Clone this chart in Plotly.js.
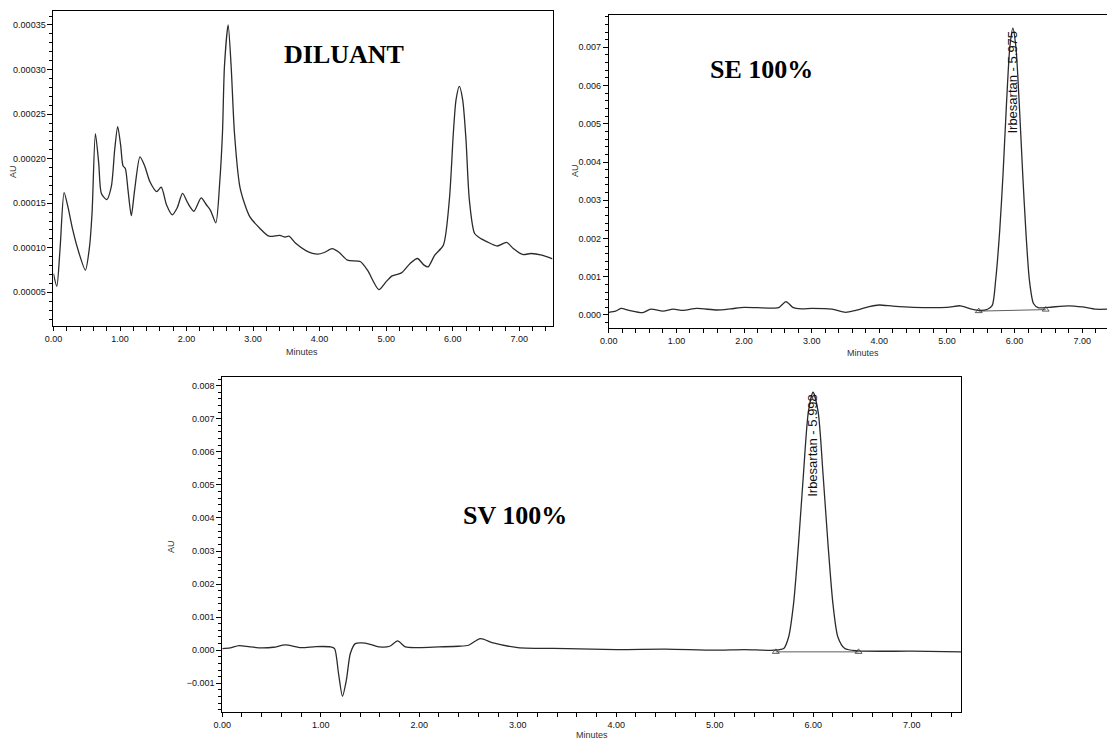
<!DOCTYPE html>
<html>
<head>
<meta charset="utf-8">
<script src="https://cdn.plot.ly/plotly-3.0.1.min.js"></script>
<style>html,body{margin:0;padding:0;background:#fff;}#chart{width:1107px;height:742px;}</style>
</head>
<body>
<div id="chart"></div>
<script>
// ---- DILUANT chromatogram (minutes, AU) ----
const dilT = [0.00,0.05,0.10,0.16,0.22,0.29,0.38,0.48,0.54,0.58,0.63,0.68,0.72,0.80,0.87,0.92,0.965,1.01,1.045,1.08,1.12,1.17,1.22,1.30,1.37,1.45,1.55,1.62,1.70,1.785,1.86,1.94,2.02,2.11,2.22,2.30,2.36,2.44,2.50,2.54,2.57,2.625,2.67,2.72,2.80,2.87,2.95,3.10,3.24,3.40,3.48,3.54,3.64,3.80,3.97,4.07,4.19,4.29,4.42,4.61,4.72,4.89,5.00,5.09,5.23,5.36,5.47,5.57,5.63,5.73,5.86,5.95,6.01,6.05,6.10,6.15,6.20,6.25,6.33,6.43,6.51,6.67,6.81,6.91,7.05,7.18,7.34,7.50];
const dilV = [0.0000711,0.0000568,0.000100,0.000162,0.000145,0.000120,0.000095,0.000075,0.000100,0.000139,0.000228,0.000195,0.000161,0.000154,0.000169,0.000210,0.000236,0.000215,0.000192,0.000189,0.000165,0.000136,0.000165,0.000202,0.000192,0.000174,0.000163,0.000168,0.000148,0.000137,0.000145,0.000161,0.000150,0.000141,0.000156,0.000148,0.000142,0.000128,0.000175,0.000229,0.000304,0.000350,0.000304,0.000229,0.000169,0.000150,0.000135,0.000122,0.000113,0.000114,0.000112,0.000113,0.000105,0.0000966,0.0000929,0.0000947,0.0000990,0.0000950,0.0000861,0.0000846,0.0000748,0.0000531,0.0000620,0.0000685,0.0000718,0.0000824,0.0000880,0.0000805,0.0000786,0.0000917,0.000103,0.000154,0.000229,0.000266,0.000281,0.000266,0.000221,0.000154,0.000116,0.000110,0.000107,0.000102,0.000106,0.0000993,0.0000925,0.0000936,0.0000917,0.0000876];

// ---- SE 100% chromatogram ----
const seT = [0.00,0.10,0.18,0.30,0.50,0.62,0.80,0.95,1.10,1.30,1.60,1.80,2.00,2.20,2.45,2.52,2.62,2.72,2.85,3.00,3.30,3.50,3.65,3.85,4.00,4.20,4.50,5.00,5.20,5.35,5.50,5.60,5.67,5.72,5.78,5.83,5.88,5.93,5.975,6.02,6.07,6.12,6.17,6.22,6.28,6.35,6.50,6.80,7.00,7.20,7.37];
const seV = [0.00007,0.00010,0.00017,0.00012,0.00006,0.00015,0.00010,0.00015,0.00012,0.00017,0.00013,0.00016,0.00020,0.00019,0.00018,0.00020,0.00035,0.00020,0.00016,0.00017,0.00015,0.00007,0.00012,0.00022,0.00026,0.00023,0.00020,0.00020,0.00024,0.00016,0.00012,0.00015,0.00025,0.0009,0.0022,0.0037,0.0055,0.0070,0.0075,0.0070,0.0055,0.0037,0.0021,0.0009,0.0003,0.00019,0.00020,0.00024,0.00021,0.00015,0.00015];
const seBaseT = [5.47, 6.46];
const seBaseV = [0.00010, 0.00014];
const sePeakLabel = "Irbesartan - 5.975";
const sePeakT = 5.975, sePeakV = 0.0075;

// ---- SV 100% chromatogram ----
const svT = [0.00,0.08,0.17,0.28,0.40,0.52,0.64,0.80,0.95,1.10,1.14,1.18,1.22,1.26,1.30,1.35,1.42,1.50,1.60,1.70,1.78,1.86,2.00,2.20,2.40,2.50,2.62,2.75,3.00,3.50,4.00,4.50,5.00,5.30,5.60,5.70,5.75,5.80,5.85,5.90,5.95,5.998,6.05,6.10,6.15,6.20,6.25,6.32,6.45,7.00,7.50];
const svV = [0.00005,0.00007,0.00014,0.00010,0.00007,0.00009,0.00016,0.00008,0.00011,0.00010,0.00005,-0.0007,-0.00139,-0.0009,-0.0001,0.00020,0.00022,0.00018,0.00010,0.00012,0.00028,0.00010,0.00008,0.00010,0.00012,0.00015,0.00035,0.00022,0.00008,0.00005,0.00002,0.00003,0.00000,0.00002,0.00000,0.00005,0.0004,0.0014,0.0032,0.0053,0.0072,0.0078,0.0072,0.0053,0.0032,0.0014,0.0004,0.00005,-0.00002,-0.00003,-0.00005];
const svBaseT = [5.62, 6.46];
const svBaseV = [-0.00005, -0.00005];
const svPeakLabel = "Irbesartan - 5.998";
const svPeakT = 5.998, svPeakV = 0.0078;

const panelTitles = ["DILUANT", "SE 100%", "SV 100%"];
const xTitle = "Minutes", yTitle = "AU";

const lineCol = "#2b2b2b";
const tickFont = {family: "Liberation Sans Narrow, Liberation Sans, Arial, sans-serif", size: 9, color: "#111"};

function trace(x, y, xa, ya) {
  return {x: x, y: y, xaxis: xa, yaxis: ya, type: "scatter", mode: "lines",
          line: {color: lineCol, width: 1.3, shape: "spline", smoothing: 0.7}, hoverinfo: "skip"};
}
function baseTrace(x, y, xa, ya) {
  return {x: x, y: y, xaxis: xa, yaxis: ya, type: "scatter", mode: "lines+markers",
          line: {color: "#333", width: 0.8},
          marker: {symbol: "triangle-up-open", size: 6, color: "#333", line: {width: 0.8}}, hoverinfo: "skip"};
}

const data = [
  trace(dilT, dilV, "x", "y"),
  trace(seT, seV, "x2", "y2"),
  baseTrace(seBaseT, seBaseV, "x2", "y2"),
  trace(svT, svV, "x3", "y3"),
  baseTrace(svBaseT, svBaseV, "x3", "y3")
];

function xAx(domain, range, anchor) {
  return {domain: domain, range: range, anchor: anchor, showgrid: false, zeroline: false,
          showline: true, linecolor: "#000", linewidth: 1, mirror: true,
          ticks: "outside", ticklen: 4, tickcolor: "#000", tick0: 0, dtick: 1, tickformat: ".2f",
          tickfont: tickFont, minor: {dtick: 0.2, ticks: "outside", ticklen: 4, tickcolor: "#000"}};
}
function yAx(domain, range, anchor, dtick, minorD, fmt) {
  return {domain: domain, range: range, anchor: anchor, showgrid: false, zeroline: false,
          showline: true, linecolor: "#000", linewidth: 1, mirror: true,
          ticks: "outside", ticklen: 5, tickcolor: "#000", tick0: 0, dtick: dtick, tickformat: fmt,
          tickfont: tickFont, minor: {dtick: minorD, ticks: "outside", ticklen: 3, tickcolor: "#000"}};
}

const bigFont = {family: "Liberation Serif, Times New Roman, serif", size: 26, color: "#000"};
const smallFont = {family: "Liberation Sans, Arial, sans-serif", size: 9, color: "#333"};
const peakFont = {family: "Liberation Sans Narrow, Liberation Sans, Arial, sans-serif", size: 13, color: "#111"};

function paperNote(text, x, y, font, angle) {
  return {text: text, xref: "paper", yref: "paper", x: x, y: y, xanchor: "center", yanchor: "middle",
          textangle: angle || 0, showarrow: false, font: font};
}

const layout = {
  width: 1107, height: 742, margin: {l: 0, r: 0, t: 0, b: 0},
  paper_bgcolor: "#fff", plot_bgcolor: "#fff", showlegend: false,
  xaxis: xAx([0.0483, 0.4991], [0, 7.5], "y"),
  yaxis: yAx([0.5606, 0.9852], [0.0000122, 0.0003657], "x", 0.00005, 0.00001, ".5f"),
  xaxis2: xAx([0.5500, 1.0], [0, 7.367], "y2"),
  yaxis2: yAx([0.5576, 0.9798], [-0.000348, 0.007845], "x2", 0.001, 0.0002, ".3f"),
  xaxis3: xAx([0.2008, 0.8681], [0, 7.5], "y3"),
  yaxis3: yAx([0.0408, 0.4923], [-0.00186, 0.00827], "x3", 0.001, 0.0002, ".3f"),
  annotations: [
    paperNote("<b>" + panelTitles[0] + "</b>", 0.3107, 0.9259, bigFont),
    paperNote("<b>" + panelTitles[1] + "</b>", 0.6883, 0.9057, bigFont),
    paperNote("<b>" + panelTitles[2] + "</b>", 0.4652, 0.3059, bigFont),
    paperNote(yTitle, 0.0117, 0.7695, smallFont, -90),
    paperNote(yTitle, 0.5194, 0.7709, smallFont, -90),
    paperNote(yTitle, 0.1545, 0.2628, smallFont, -90),
    paperNote(xTitle, 0.2728, 0.5256, smallFont),
    paperNote(xTitle, 0.7794, 0.5243, smallFont),
    paperNote(xTitle, 0.5348, 0.0094, smallFont),
    {text: sePeakLabel, xref: "x2", yref: "y2", x: sePeakT, y: sePeakV, xanchor: "center", yanchor: "top", textangle: -90, showarrow: false, font: peakFont},
    {text: svPeakLabel, xref: "x3", yref: "y3", x: svPeakT, y: svPeakV, xanchor: "center", yanchor: "top", textangle: -90, showarrow: false, font: peakFont}
  ]
};

Plotly.newPlot("chart", data, layout, {staticPlot: true, displayModeBar: false});
</script>
</body>
</html>
